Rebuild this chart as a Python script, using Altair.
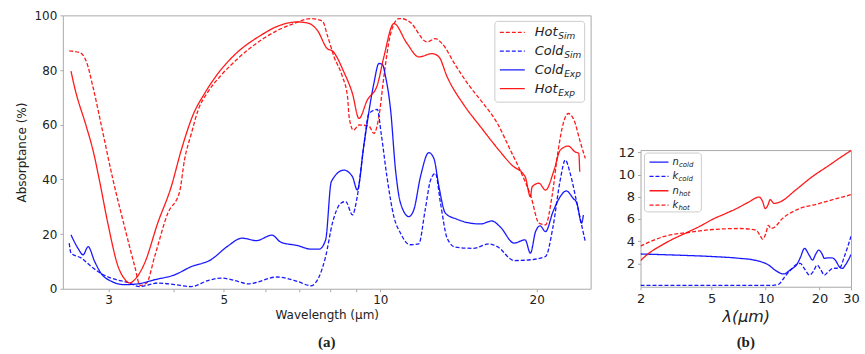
import altair as alt
import pandas as pd

# ---------------- Panel (a): absorptance ----------------
hot_sim_wl = [2.52, 2.64, 2.72, 2.80, 2.90, 3.06, 3.22, 3.37, 3.45, 3.55, 3.68, 3.90, 4.11, 4.20, 4.33, 4.46, 4.66, 4.94, 5.32, 5.89, 6.34, 6.82, 7.34, 7.74, 7.91, 8.15, 8.46, 8.65, 8.71, 8.88, 9.10, 9.51, 9.72, 9.94, 10.16, 10.47, 10.86, 11.0, 11.4, 12.3, 12.76, 13.15, 13.95, 14.8, 15.6, 16.8, 17.8, 18.7, 19.5, 20.2, 20.8, 21.4, 22.0, 22.5, 23.0, 23.6, 24.2, 24.8]
hot_sim_val = [87.0, 86.4, 83.0, 73.8, 60.5, 39.8, 22.7, 8.1, 1.2, 2.1, 11.8, 27.6, 35.5, 47.1, 56.8, 65.3, 72.0, 78.1, 84.2, 90.9, 94.5, 97.0, 98.8, 97.9, 92.7, 84.8, 77.5, 70.2, 62.9, 58.0, 59.9, 59.5, 56.8, 62.9, 77.5, 93.3, 98.8, 98.8, 97.6, 90.3, 91.5, 89.7, 81.8, 74.5, 69.0, 60.5, 50.7, 42.2, 33.7, 24.0, 23.4, 33.7, 50.7, 60.5, 64.1, 61.7, 54.4, 47.7]

cold_sim_wl = [2.52, 2.54, 2.66, 2.78, 2.93, 3.08, 3.27, 3.44, 3.73, 4.02, 4.33, 4.66, 4.94, 5.32, 5.56, 6.34, 6.93, 7.35, 7.63, 7.85, 8.09, 8.40, 8.58, 8.84, 9.03, 9.31, 9.51, 9.87, 10.04, 10.3, 10.62, 10.94, 11.4, 11.86, 12.2, 12.5, 12.77, 13.06, 13.45, 13.95, 15.1, 16.2, 16.8, 18.1, 19.45, 20.8, 21.5, 22.2, 22.7, 23.2, 23.9, 24.4, 24.8]
cold_sim_val = [16.7, 13.0, 11.2, 8.1, 5.1, 3.5, 2.3, 0.8, 2.1, 1.5, 0.8, 3.0, 3.9, 2.7, 1.8, 4.3, 2.7, 1.1, 4.5, 11.8, 24.0, 31.3, 31.9, 27.0, 33.7, 53.2, 64.1, 65.6, 56.8, 41.0, 26.4, 20.3, 16.1, 16.4, 28.8, 39.8, 42.2, 31.3, 18.5, 15.2, 14.8, 16.4, 15.4, 10.3, 10.6, 11.8, 22.7, 39.8, 47.1, 42.2, 31.3, 23.4, 17.3]

cold_exp_wl = [2.54, 2.62, 2.68, 2.74, 2.82, 2.90, 3.04, 3.22, 3.42, 3.68, 4.02, 4.33, 4.72, 5.08, 5.42, 5.77, 6.19, 6.44, 6.93, 7.35, 7.63, 7.85, 8.05, 8.51, 8.84, 9.03, 9.31, 9.72, 9.94, 10.09, 10.24, 10.47, 10.70, 10.94, 11.35, 11.6, 11.95, 12.4, 12.68, 12.97, 13.35, 14.06, 14.9, 15.6, 16.4, 17.0, 18.1, 19.0, 19.45, 19.9, 20.3, 20.8, 21.5, 22.2, 22.8, 23.5, 23.9, 24.4, 24.6]
cold_exp_val = [19.7, 14.8, 12.4, 15.4, 10.0, 5.7, 2.7, 1.5, 1.8, 3.3, 5.1, 8.1, 10.6, 15.5, 18.5, 17.6, 19.6, 17.0, 15.8, 14.5, 14.5, 17.9, 39.2, 43.4, 41.0, 36.1, 53.2, 75.1, 82.4, 82.1, 77.5, 65.3, 43.4, 31.3, 26.4, 28.8, 41.0, 49.8, 47.7, 37.3, 27.6, 25.4, 24.0, 23.7, 24.8, 22.7, 16.7, 17.9, 13.0, 20.9, 23.0, 20.9, 28.2, 33.7, 35.8, 33.1, 31.3, 24.0, 27.0]

hot_exp_wl = [2.54, 2.58, 2.72, 2.80, 2.88, 2.99, 3.13, 3.22, 3.29, 3.39, 3.52, 3.73, 3.96, 4.14, 4.36, 4.59, 4.87, 5.24, 5.89, 6.34, 6.93, 7.25, 7.57, 7.91, 8.09, 8.51, 8.84, 9.10, 9.44, 9.87, 10.16, 10.62, 11.26, 11.86, 12.59, 12.97, 13.45, 14.49, 15.6, 16.8, 17.9, 19.0, 19.45, 19.6, 20.2, 20.8, 21.6, 22.2, 23.0, 23.7, 24.1, 24.2]
hot_exp_val = [79.6, 73.8, 59.2, 50.7, 39.8, 24.0, 8.1, 3.6, 2.1, 3.9, 9.4, 24.0, 37.3, 50.7, 63.5, 71.4, 78.7, 85.5, 92.7, 96.0, 97.6, 97.2, 94.5, 87.8, 87.0, 79.3, 71.4, 62.3, 69.0, 74.5, 84.8, 97.0, 89.7, 84.8, 86.0, 84.8, 77.5, 67.2, 59.2, 51.4, 45.3, 41.0, 33.7, 37.3, 38.6, 36.1, 43.4, 50.7, 52.2, 50.1, 49.5, 42.8]

series_a = ["Hot_Sim", "Cold_Sim", "Cold_Exp", "Hot_Exp"]
legend_a_main = ["Hot", "Cold", "Cold", "Hot"]
legend_a_sub = ["Sim", "Sim", "Exp", "Exp"]
ticks_a_x = [3, 4, 5, 6, 7, 8, 9, 10, 20]
labels_a_x = [3, 5, 10, 20]
ticks_a_y = [0, 20, 40, 60, 80, 100]

# ---------------- Panel (b): optical constants ----------------
n_cold_wl = [2.0, 3.0, 5.0, 7.0, 8.8, 10.4, 11.4, 12.6, 13.8, 15.0, 15.6, 16.5, 17.5, 18.3, 19.0, 19.8, 20.6, 21.3, 22.3, 23.5, 24.5, 25.8, 26.8, 28.0, 30.0]
n_cold_val = [2.85, 2.76, 2.62, 2.47, 2.27, 1.85, 1.35, 1.05, 1.45, 1.95, 2.5, 3.35, 2.75, 2.3, 2.8, 3.2, 2.9, 2.45, 2.5, 2.5, 2.3, 1.7, 1.55, 1.9, 2.8]
k_cold_wl = [2.0, 4.0, 8.0, 11.0, 11.9, 12.4, 13.0, 13.8, 15.0, 15.6, 16.5, 17.6, 18.5, 19.4, 20.3, 21.3, 22.5, 23.8, 25.9, 27.5, 30.0]
k_cold_val = [0.03, 0.03, 0.02, 0.03, 0.15, 0.5, 0.95, 1.4, 1.95, 2.0, 1.5, 0.95, 1.3, 1.85, 1.45, 0.95, 1.3, 1.55, 1.58, 2.6, 4.45]
n_hot_wl = [2.0, 2.2, 2.6, 3.0, 3.6, 4.3, 5.1, 6.0, 7.0, 8.0, 9.2, 9.6, 9.95, 10.3, 10.6, 11.15, 12.1, 14.7, 18.2, 22.5, 26.0, 30.0]
n_hot_val = [2.25, 2.85, 3.6, 4.15, 4.75, 5.35, 6.0, 6.5, 7.0, 7.5, 7.97, 7.6, 6.93, 7.25, 7.74, 7.4, 7.55, 8.6, 9.8, 10.8, 11.5, 12.16]
k_hot_wl = [2.0, 2.3, 2.67, 3.76, 5.07, 7.13, 8.83, 9.29, 9.62, 10.03, 10.37, 10.7, 11.14, 12.4, 14.7, 19.8, 30.0]
k_hot_val = [3.55, 4.0, 4.4, 4.8, 5.05, 5.14, 4.99, 4.54, 4.18, 4.7, 5.43, 5.14, 5.23, 6.03, 6.78, 7.38, 8.19]

series_b = ["n_cold", "k_cold", "n_hot", "k_hot"]
legend_b_main = ["n", "k", "n", "k"]
legend_b_sub = ["cold", "cold", "hot", "hot"]
ticks_b_x = [2, 5, 10, 20, 30]
ticks_b_y = [2, 4, 6, 8, 10, 12]

RED = "#ff0000"
BLUE = "#0000ff"
DASH = [4, 2]
SOLID = [1, 0]
FRAME = "#aaaaaa"
TXT = "#222222"


def long(name, wl, val):
    return pd.DataFrame({"wl": wl, "val": val, "series": name})


dfa = pd.concat([
    long("Hot_Sim", hot_sim_wl, hot_sim_val),
    long("Cold_Sim", cold_sim_wl, cold_sim_val),
    long("Cold_Exp", cold_exp_wl, cold_exp_val),
    long("Hot_Exp", hot_exp_wl, hot_exp_val),
], ignore_index=True)

dfb = pd.concat([
    long("n_cold", n_cold_wl, n_cold_val),
    long("k_cold", k_cold_wl, k_cold_val),
    long("n_hot", n_hot_wl, n_hot_val),
    long("k_hot", k_hot_wl, k_hot_val),
], ignore_index=True)

color_a = alt.Color("series:N", scale=alt.Scale(domain=series_a, range=[RED, BLUE, BLUE, RED]), legend=None)
dash_a = alt.StrokeDash("series:N", scale=alt.Scale(domain=series_a, range=[DASH, DASH, SOLID, SOLID]), legend=None)
color_b = alt.Color("series:N", scale=alt.Scale(domain=series_b, range=[BLUE, BLUE, RED, RED]), legend=None)
dash_b = alt.StrokeDash("series:N", scale=alt.Scale(domain=series_b, range=[SOLID, DASH, SOLID, DASH]), legend=None)

axis_common = dict(grid=False, domain=False, tickColor=FRAME, labelColor=TXT, titleColor=TXT,
                   labelFont="DejaVu Sans", titleFont="DejaVu Sans", titleFontWeight="normal")

label_test = " || ".join(f"datum.value == {v}" for v in labels_a_x)

lines_a = alt.Chart(dfa).mark_line(strokeWidth=1.3, opacity=0.9, interpolate="monotone", clip=True).encode(
    x=alt.X("wl:Q", scale=alt.Scale(type="log", domain=[2.45, 25.4], nice=False),
            axis=alt.Axis(values=ticks_a_x, format="~g", labelExpr=f"({label_test}) ? datum.label : ''",
                          tickSize=3, labelFontSize=12, titleFontSize=12, labelPadding=3, titlePadding=4,
                          title="Wavelength (μm)", **axis_common)),
    y=alt.Y("val:Q", scale=alt.Scale(domain=[0, 100], nice=False),
            axis=alt.Axis(values=ticks_a_y, tickSize=3, labelFontSize=12, titleFontSize=12, labelPadding=3,
                          titlePadding=6, title="Absorptance (%)", **axis_common)),
    color=color_a,
    strokeDash=dash_a,
)

leg_a = pd.DataFrame({"series": series_a, "main": legend_a_main, "sub": legend_a_sub, "i": list(range(4))})
box_a = alt.Chart(pd.DataFrame({"k": [0]})).mark_rect(
    fill="white", fillOpacity=0.8, stroke="#cccccc", strokeWidth=1, cornerRadius=3
).encode(x=alt.value(433), x2=alt.value(523), y=alt.value(6), y2=alt.value(87))
base_leg_a = alt.Chart(leg_a).transform_calculate(
    yy="17 + datum.i * 18.8",
    ys="21 + datum.i * 18.8",
    sx="473 + (datum.main == 'Hot' ? 23.5 : 29.5)",
)
sample_a = base_leg_a.mark_rule(strokeWidth=1.3, opacity=0.9).encode(
    x=alt.value(438), x2=alt.value(463), y=alt.Y("yy:Q", scale=None, axis=None), color=color_a, strokeDash=dash_a)
main_a = base_leg_a.mark_text(align="left", baseline="middle", fontStyle="italic", fontSize=13,
                              font="DejaVu Sans", color=TXT).encode(
    x=alt.value(473), y=alt.Y("yy:Q", scale=None, axis=None), text="main:N")
sub_a = base_leg_a.mark_text(align="left", baseline="middle", fontStyle="italic", fontSize=9,
                             font="DejaVu Sans", color=TXT).encode(
    x=alt.X("sx:Q", scale=None, axis=None), y=alt.Y("ys:Q", scale=None, axis=None), text="sub:N")

panel_a = alt.layer(lines_a, box_a, sample_a, main_a, sub_a).properties(
    width=529, height=274,
    view=alt.ViewConfig(stroke=FRAME, strokeWidth=1),
    title=alt.TitleParams("(a)", orient="bottom", font="Liberation Serif", fontWeight="bold", fontSize=15,
                          color=TXT, offset=14),
)

lines_b = alt.Chart(dfb).mark_line(strokeWidth=1.3, opacity=0.9, interpolate="monotone", clip=True).encode(
    x=alt.X("wl:Q", scale=alt.Scale(type="log", domain=[2, 30], nice=False),
            axis=alt.Axis(values=ticks_b_x, format="~g", tickSize=3, labelFontSize=13, titleFontSize=16,
                          titleFontStyle="italic", labelPadding=3, titlePadding=3, title="λ(μm)",
                          labelFlush=False, **axis_common)),
    y=alt.Y("val:Q", scale=alt.Scale(domain=[-0.1, 12.2], nice=False),
            axis=alt.Axis(values=ticks_b_y, tickSize=3, labelFontSize=13, labelPadding=3, title=None,
                          **axis_common)),
    color=color_b,
    strokeDash=dash_b,
)

leg_b = pd.DataFrame({"series": series_b, "main": legend_b_main, "sub": legend_b_sub, "i": list(range(4))})
box_b = alt.Chart(pd.DataFrame({"k": [0]})).mark_rect(
    fill="white", fillOpacity=0.8, stroke="#cccccc", strokeWidth=1, cornerRadius=3
).encode(x=alt.value(4), x2=alt.value(61), y=alt.value(3), y2=alt.value(62))
base_leg_b = alt.Chart(leg_b).transform_calculate(
    yy="12 + datum.i * 14.4",
    ys="15 + datum.i * 14.4",
    sx="32 + (datum.main == 'n' ? 6.5 : 6)",
)
sample_b = base_leg_b.mark_rule(strokeWidth=1.3, opacity=0.9).encode(
    x=alt.value(9), x2=alt.value(28), y=alt.Y("yy:Q", scale=None, axis=None), color=color_b, strokeDash=dash_b)
main_b = base_leg_b.mark_text(align="left", baseline="middle", fontStyle="italic", fontSize=10,
                              font="DejaVu Sans", color=TXT).encode(
    x=alt.value(32), y=alt.Y("yy:Q", scale=None, axis=None), text="main:N")
sub_b = base_leg_b.mark_text(align="left", baseline="middle", fontStyle="italic", fontSize=7,
                             font="DejaVu Sans", color=TXT).encode(
    x=alt.X("sx:Q", scale=None, axis=None), y=alt.Y("ys:Q", scale=None, axis=None), text="sub:N")

panel_b = alt.layer(lines_b, box_b, sample_b, main_b, sub_b).properties(
    width=211, height=137,
    view=alt.ViewConfig(stroke=FRAME, strokeWidth=1),
    title=alt.TitleParams("(b)", orient="bottom", font="Liberation Serif", fontWeight="bold", fontSize=15,
                          color=TXT, offset=10),
)

spacer = alt.Chart(pd.DataFrame({"k": [0]})).mark_text(text="").encode(
    x=alt.value(0), y=alt.value(0)
).properties(width=211, height=135, view=alt.ViewConfig(stroke=None))

right = alt.vconcat(spacer, panel_b, spacing=0, bounds="flush").resolve_scale(
    color="independent", strokeDash="independent")

chart = alt.hconcat(panel_a, right, spacing=50, bounds="flush").resolve_scale(
    color="independent", strokeDash="independent"
).properties(
    padding={"left": 14, "top": 8, "right": 5, "bottom": 5},
    background="white",
).configure_view(stroke=None)

chart.save("out.html", embed_options={"renderer": "svg", "actions": False})
